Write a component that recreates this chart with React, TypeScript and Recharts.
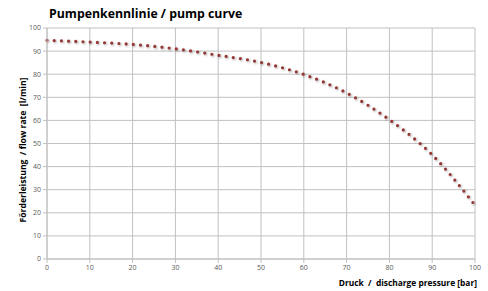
import React from 'react';
import { LineChart, Line, XAxis, YAxis, CartesianGrid } from 'recharts';

const pressure = [0, 10, 20, 30, 40, 50, 60, 70, 80, 90, 100];
const flowRate = [94.7, 93.9, 92.9, 91.0, 88.2, 85.1, 79.9, 71.9, 60.3, 45.1, 23.3];
const xTicks = [0, 10, 20, 30, 40, 50, 60, 70, 80, 90, 100];
const yTicks = [0, 10, 20, 30, 40, 50, 60, 70, 80, 90, 100];

const data = pressure.map((p, i) => ({ pressure: p, flow: flowRate[i] }));

const FONT = '"Open Sans", "Noto Sans", sans-serif';
const GRID = '#c0c0c0';
const TICK = { fill: '#595959', fontSize: 7, fontFamily: FONT };

export default function App() {
  return (
    <div style={{ position: 'absolute', left: 0, top: 0, width: 488, height: 291, background: '#fff', fontFamily: FONT }}>
      <div style={{ position: 'absolute', left: 49, top: 5, fontSize: 12.3, fontWeight: 700, color: '#000', whiteSpace: 'nowrap' }}>
        Pumpenkennlinie / pump curve
      </div>
      <div
        style={{
          position: 'absolute',
          left: 23,
          top: 150,
          transform: 'translate(-50%, -50%) rotate(-90deg)',
          fontSize: 8.6,
          fontWeight: 700,
          whiteSpace: 'pre',
          color: '#000',
        }}
      >
        {'Förderleistung  / flow rate  [l/min]'}
      </div>
      <div style={{ position: 'absolute', right: 11, top: 277, fontSize: 8.4, fontWeight: 700, whiteSpace: 'pre', color: '#000' }}>
        {'Druck  /  discharge pressure [bar]'}
      </div>
      <LineChart width={488} height={291} data={data} margin={{ top: 28, right: 13, left: 0, bottom: 12 }}>
        <CartesianGrid stroke={GRID} strokeWidth={1} />
        <XAxis
          dataKey="pressure"
          type="number"
          domain={[0, 100]}
          ticks={xTicks}
          tick={TICK}
          tickSize={4}
          tickMargin={2}
          stroke={GRID}
          height={20}
        />
        <YAxis
          type="number"
          domain={[0, 100]}
          ticks={yTicks}
          tick={TICK}
          tickSize={4}
          tickMargin={2}
          stroke={GRID}
          width={47}
        />
        <Line
          dataKey="flow"
          type="monotone"
          stroke="#953735"
          strokeWidth={3.2}
          strokeDasharray="0 7.2"
          strokeLinecap="round"
          dot={false}
          isAnimationActive={false}
          style={{ filter: 'drop-shadow(1.5px 1.5px 1px rgba(0,0,0,0.35))' }}
        />
      </LineChart>
    </div>
  );
}
